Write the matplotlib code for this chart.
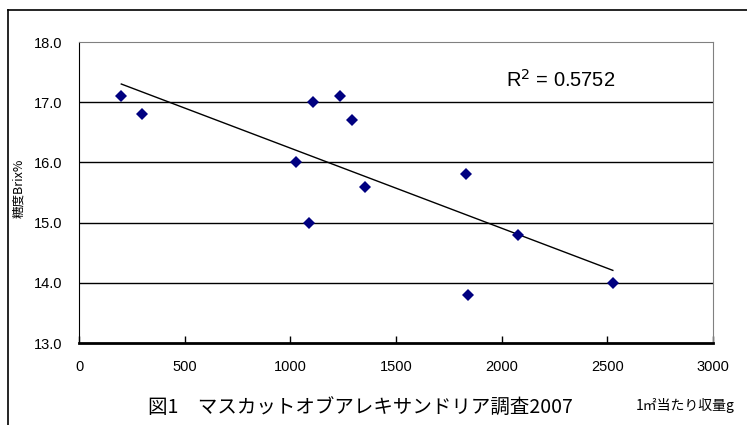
import matplotlib
matplotlib.use("Agg")
import matplotlib.pyplot as plt
import numpy as np
from matplotlib.lines import Line2D

plt.rcParams['font.family'] = ['Liberation Sans', 'Noto Sans CJK JP', 'DejaVu Sans']

# yield per m2 (g) and sugar content (Brix %)
yield_g = [200, 298, 1027, 1106, 1235, 1290, 1354, 1090, 1831, 2076, 1842, 2526]
brix = [17.1, 16.8, 16.0, 17.0, 17.1, 16.7, 15.6, 15.0, 15.8, 14.8, 13.8, 14.0]
r2_label = "R$^2$ = 0.5752"
x_ticks = [0, 500, 1000, 1500, 2000, 2500, 3000]
y_ticks = [13.0, 14.0, 15.0, 16.0, 17.0, 18.0]

fig = plt.figure(figsize=(7.47, 4.25), dpi=100)
ax = fig.add_axes([0.1058, 0.1929, 0.8487, 0.7081])

# linear trend line
x = np.array(yield_g, dtype=float)
y = np.array(brix)
slope, icpt = np.polyfit(x, y, 1)
xs = np.array([x.min(), x.max()])
ax.plot(xs, slope * xs + icpt, color='black', lw=1.0, zorder=2)

ax.plot(x, y, linestyle='none', marker='D', markersize=6.6,
        color='#000080', markeredgewidth=0, zorder=3)

ax.set_xlim(0, 3000)
ax.set_ylim(13, 18)
ax.set_xticks(x_ticks)
ax.set_yticks(y_ticks)
ax.set_yticklabels([f"{v:.1f}" for v in y_ticks])
ax.tick_params(axis='x', direction='in', length=5, width=1, pad=12, labelsize=10.5)
ax.tick_params(axis='y', length=0, pad=12, labelsize=10.5)

for v in y_ticks[1:-1]:
    ax.axhline(v, color='black', lw=1.0, zorder=1)

ax.spines['left'].set_color('black')
ax.spines['bottom'].set_color('black')
ax.spines['bottom'].set_linewidth(2)
ax.spines['top'].set_color('#808080')
ax.spines['right'].set_color('#808080')

ax.text(2021, 17.37, r2_label, fontsize=14.5, ha='left', va='center',
        family=['Liberation Sans'])

fig.text(0.025, 0.557, "糖度Brix%", rotation=90, fontsize=9, ha='center', va='center',
         family=['Noto Sans CJK JP', 'DejaVu Sans'])
fig.text(0.917, 0.045, "1㎡当たり収量g", fontsize=10, ha='center', va='center',
         family=['Noto Sans CJK JP', 'DejaVu Sans'])
fig.text(0.482, 0.038, "図1　マスカットオブアレキサンドリア調査2007", fontsize=14,
         ha='center', va='center', family=['Noto Sans CJK JP', 'DejaVu Sans'])

# outer chart border (cropped at right and bottom)
fig.add_artist(Line2D([8 / 747, 8 / 747], [0, 1 - 10 / 425], color='black', lw=1.2,
                      transform=fig.transFigure))
fig.add_artist(Line2D([8 / 747, 1], [1 - 10 / 425, 1 - 10 / 425], color='black', lw=1.2,
                      transform=fig.transFigure))

fig.savefig("out.png", dpi=100)
